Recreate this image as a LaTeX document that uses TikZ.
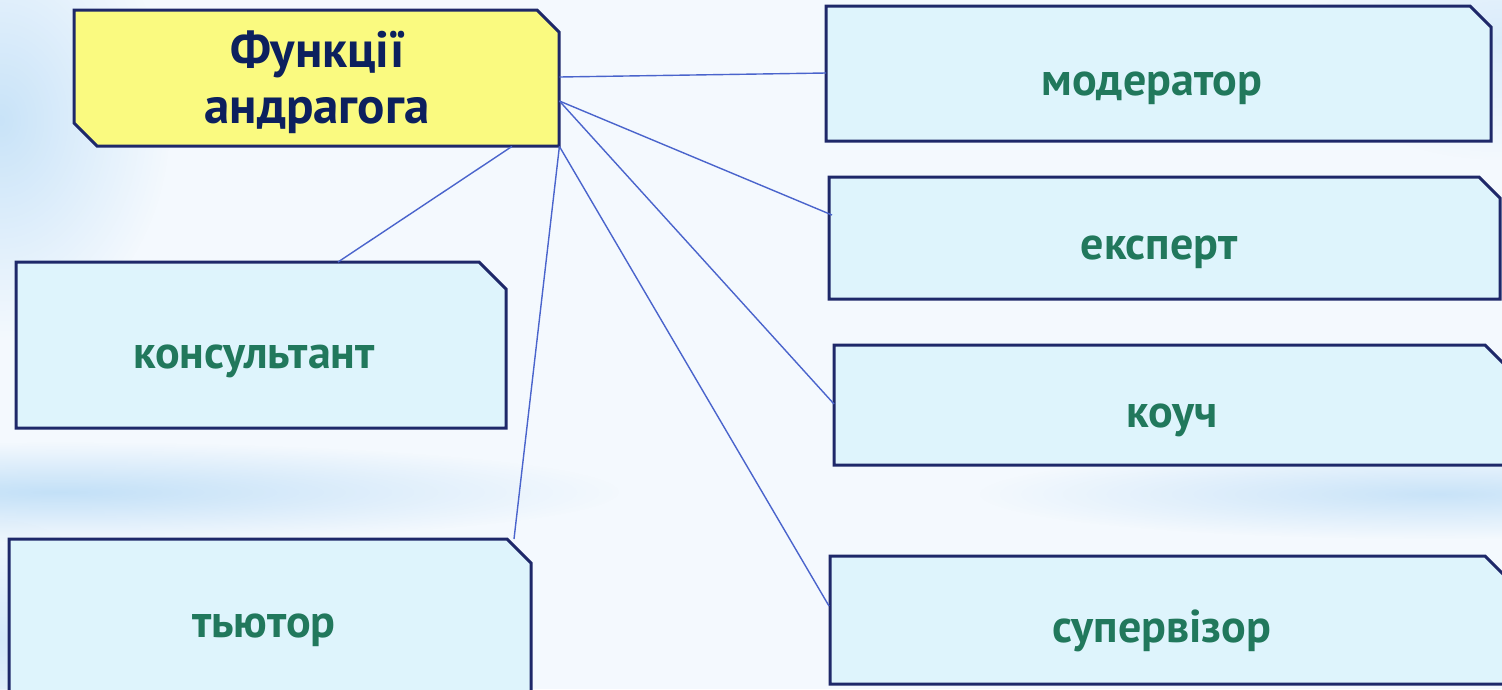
\documentclass[tikz,border=0pt]{standalone}
\usepackage{fontspec}
\setmainfont{PT Sans}
\usetikzlibrary{fadings,calc}
\tikzfading[name=softfade, inner color=transparent!0, outer color=transparent!100]
\definecolor{bgbase}{RGB}{244,249,254}
\definecolor{bgblue}{RGB}{190,222,247}
\definecolor{boxfill}{RGB}{222,244,252}
\definecolor{boxline}{RGB}{30,40,105}
\definecolor{titlefill}{RGB}{250,250,128}
\definecolor{titletext}{RGB}{12,32,94}
\definecolor{labeltext}{RGB}{33,120,92}
\definecolor{conn}{RGB}{74,100,204}
\tikzset{
  boxarea/.style={rectangle, draw=none, inner sep=0pt, anchor=north west},
  chamfer/.style={draw=boxline, line width=3pt, line join=miter},
  lbl/.style={anchor=base, text=labeltext, font=\fontsize{46}{52}\selectfont\bfseries, inner sep=0pt},
  ttl/.style={anchor=base, text=titletext, font=\fontsize{51}{56}\selectfont\bfseries, inner sep=0pt, align=center},
  connector/.style={draw=conn, line width=1.4pt}
}
\newcommand{\chbox}[6]{%
  \fill[boxfill] (#2,#3) -- (#4-#6,#3) -- (#4,#3+#6) -- (#4,#5) -- (#2,#5) -- cycle;
  \draw[chamfer] (#2,#3) -- (#4-#6,#3) -- (#4,#3+#6) -- (#4,#5) -- (#2,#5) -- cycle;
  \node[boxarea, minimum width=#4-#2, minimum height=#5-#3] (#1) at (#2,#3) {};
}
\begin{document}
\begin{tikzpicture}[x=1pt,y=-1pt]
\useasboundingbox (0,0) rectangle (1502,689);
% background
\fill[bgbase] (0,0) rectangle (1502,689);
\fill[bgblue, opacity=0.8, path fading=softfade] (0,120) ellipse [x radius=170, y radius=220];
\fill[bgblue, opacity=0.9, path fading=softfade] (60,492) ellipse [x radius=560, y radius=50];
\fill[bgblue, opacity=0.8, path fading=softfade] (1440,494) ellipse [x radius=460, y radius=45];
\fill[bgblue, opacity=0.5, path fading=softfade] (1502,40) ellipse [x radius=200, y radius=120];
\fill[bgblue, opacity=0.6, path fading=softfade] (0,640) ellipse [x radius=120, y radius=120];
% title box (two chamfered corners)
\fill[titlefill] (74,10) -- (537,10) -- (559,32) -- (559,146) -- (97,146) -- (74,123) -- cycle;
\draw[chamfer] (74,10) -- (537,10) -- (559,32) -- (559,146) -- (97,146) -- (74,123) -- cycle;
\node[boxarea, minimum width=485, minimum height=136] (title) at (74,10) {};
\node[ttl] (ttl1) at (318,67) {Функції};
\node[ttl] (ttl2) at (317,123) {андрагога};
% boxes
\chbox{moder}{826}{6}{1491}{141}{21}
\chbox{expert}{829}{177}{1500}{299}{21}
\chbox{coach}{834}{345}{1520}{465}{35}
\chbox{superv}{830}{556}{1520}{684}{35}
\chbox{consult}{16}{262}{506}{428}{27}
\chbox{tutor}{9}{539}{531}{700}{24}
% labels
\node[lbl] (l-moder) at (1152,95) {модератор};
\node[lbl] (l-expert) at (1159,259) {експерт};
\node[lbl] (l-coach) at (1172,427) {коуч};
\node[lbl] (l-superv) at (1162,642) {супервізор};
\node[lbl] (l-consult) at (254,368) {консультант};
\node[lbl] (l-tutor) at (264,637) {тьютор};
% connector end points
\coordinate (t-a) at ($(title.north east)+(0,67)$);
\coordinate (t-b) at ($(title.north east)+(0,91)$);
\coordinate (t-c) at (title.south east);
\coordinate (t-d) at ($(title.south west)+(438,0)$);
\coordinate (m-in) at ($(moder.north west)+(0,67)$);
\coordinate (e-in) at ($(expert.north west)+(3,38)$);
\coordinate (c-in) at ($(coach.north west)+(0,59)$);
\coordinate (s-in) at ($(superv.north west)+(-1,50)$);
\coordinate (k-in) at ($(consult.north west)+(322,0)$);
\coordinate (u-in) at ($(tutor.north west)+(505,0)$);
\draw[connector] (t-a) -- (m-in);
\draw[connector] (t-b) -- (e-in);
\draw[connector] (t-b) -- (c-in);
\draw[connector] (t-c) -- (s-in);
\draw[connector] (t-c) -- (u-in);
\draw[connector] (t-d) -- (k-in);
\end{tikzpicture}
\end{document}
